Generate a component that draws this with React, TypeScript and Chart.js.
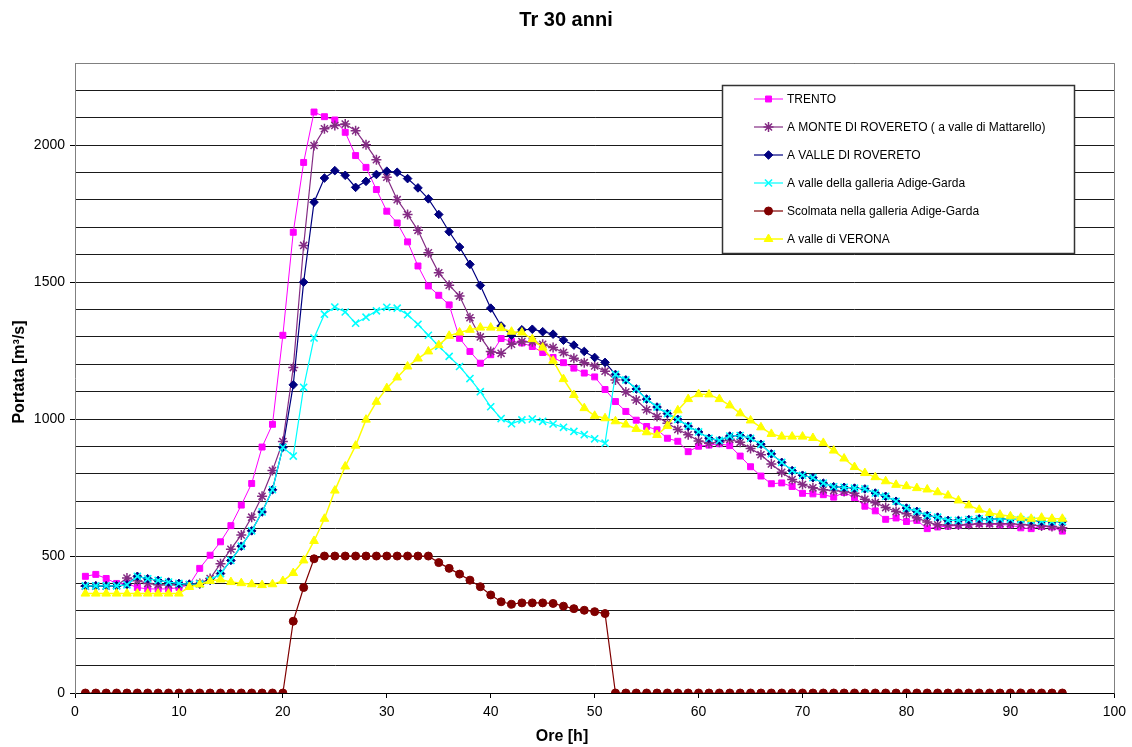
import React, { useEffect, useRef } from 'react';
import { Chart, registerables } from 'chart.js';
import * as helpers from 'chart.js/helpers';

Chart.register(...registerables);

const titleText = 'Tr 30 anni';
const xTitle = 'Ore [h]';
const yTitle = 'Portata [m³/s]';

const hours = Array.from({ length: 95 }, (_, i) => i + 1);

const seriesLabels = [
  'TRENTO',
  'A MONTE DI ROVERETO ( a valle di Mattarello)',
  'A VALLE DI ROVERETO',
  'A valle della galleria Adige-Garda',
  'Scolmata nella galleria Adige-Garda',
  'A valle di VERONA',
];

const trento = [
  426, 433, 418, 400, 400, 385, 380, 380, 380, 385,
  395, 455, 503, 552, 611, 686, 765, 898, 981, 1306,
  1682, 1937, 2121, 2104, 2092, 2047, 1962, 1919, 1838, 1759,
  1716, 1647, 1559, 1486, 1452, 1417, 1295, 1247, 1204, 1235,
  1294, 1284, 1278, 1265, 1243, 1225, 1206, 1186, 1168, 1154,
  1108, 1064, 1028, 996, 973, 961, 930, 919, 881, 901,
  905, 910, 903, 865, 826, 792, 764, 767, 754, 729,
  727, 724, 715, 732, 714, 682, 665, 634, 639, 626,
  630, 600, 606, 609, 612, 615, 618, 618, 614, 614,
  603, 600, 608, 606, 591,
];

const monteRovereto = [
  390, 390, 390, 392, 420, 410, 400, 395, 395, 395,
  395, 400, 418, 472, 525, 577, 642, 718, 812, 918,
  1188, 1634, 1999, 2060, 2072, 2077, 2053, 2002, 1947, 1883,
  1801, 1747, 1689, 1607, 1534, 1489, 1449, 1370, 1300, 1247,
  1240, 1273, 1283, 1282, 1273, 1261, 1243, 1222, 1206, 1194,
  1175, 1143, 1099, 1070, 1034, 1009, 985, 962, 943, 920,
  912, 915, 926, 915, 893, 870, 836, 806, 779, 761,
  749, 742, 739, 736, 729, 707, 695, 677, 663, 654,
  640, 624, 614, 613, 613, 615, 618, 618, 618, 618,
  615, 613, 610, 608, 603,
];

const valleRovereto = [
  391, 391, 391, 391, 395, 426, 417, 411, 405, 400,
  397, 398, 411, 436, 484, 536, 592, 661, 742, 897,
  1125, 1500, 1792, 1880, 1907, 1890, 1846, 1868, 1893, 1905,
  1901, 1878, 1844, 1804, 1747, 1684, 1628, 1565, 1488, 1405,
  1340, 1306, 1326, 1328, 1319, 1310, 1288, 1270, 1247, 1225,
  1207, 1163, 1143, 1110, 1073, 1044, 1020, 999, 974, 953,
  930, 922, 938, 940, 930, 908, 873, 842, 812, 795,
  786, 766, 753, 751, 748, 745, 730, 718, 700, 675,
  663, 648, 642, 630, 630, 633, 636, 635, 636, 635,
  633, 630, 627, 626, 626,
];

const valleGalleria = [
  391, 391, 391, 391, 395, 426, 417, 411, 405, 400,
  397, 398, 411, 436, 484, 536, 592, 661, 742, 897,
  865, 1116, 1296, 1383, 1409, 1391, 1350, 1372, 1395, 1408,
  1405, 1381, 1346, 1306, 1266, 1229, 1192, 1148, 1100, 1045,
  1002, 983, 997, 1000, 992, 982, 970, 955, 943, 928,
  912, 1163, 1143, 1110, 1073, 1044, 1020, 999, 974, 953,
  930, 922, 938, 940, 930, 908, 873, 842, 812, 795,
  786, 766, 753, 751, 748, 745, 730, 718, 700, 675,
  663, 648, 642, 630, 630, 633, 636, 635, 636, 635,
  633, 630, 627, 626, 626,
];

const scolmata = [
  0, 0, 0, 0, 0, 0, 0, 0, 0, 0,
  0, 0, 0, 0, 0, 0, 0, 0, 0, 0,
  262, 385, 490, 500, 500, 500, 500, 500, 500, 500,
  500, 500, 500, 500, 476, 455, 434, 412, 388, 358,
  333, 324, 329, 329, 329, 327, 317, 308, 302, 297,
  290, 0, 0, 0, 0, 0, 0, 0, 0, 0,
  0, 0, 0, 0, 0, 0, 0, 0, 0, 0,
  0, 0, 0, 0, 0, 0, 0, 0, 0, 0,
  0, 0, 0, 0, 0, 0, 0, 0, 0, 0,
  0, 0, 0, 0, 0,
];

const verona = [
  363, 363, 363, 363, 363, 363, 363, 363, 363, 363,
  387, 396, 409, 414, 405, 401, 397, 394, 397, 409,
  438, 484, 555, 636, 739, 827, 903, 998, 1063, 1113,
  1152, 1192, 1221, 1247, 1270, 1304, 1316, 1326, 1334, 1334,
  1332, 1319, 1316, 1292, 1261, 1213, 1146, 1088, 1040, 1012,
  1003, 992, 980, 964, 952, 942, 975, 1032, 1073, 1091,
  1090, 1073, 1050, 1021, 995, 970, 946, 936, 936, 936,
  931, 913, 885, 856, 825, 803, 788, 773, 760, 755,
  748, 743, 733, 721, 703, 685, 669, 657, 651, 645,
  640, 636, 640, 636, 636,
];

const seriesValues = [trento, monteRovereto, valleRovereto, valleGalleria, scolmata, verona];

const seriesColors = ['#FF00FF', '#842C84', '#000080', '#00FFFF', '#800000', '#FFFF00'];
const pointStyles = ['rect', 'star', 'rectRot', 'crossRot', 'circle', 'triangle'];
const pointRadii = [4.2, 5, 4.3, 5, 4, 5];
const lineWidths = [1, 1.2, 1.2, 1.2, 1.2, 1.5];
const pointBorderWidths = [1, 1.5, 1, 1.6, 1, 1];

const FONT = '"Liberation Sans", Arial, sans-serif';

const decorPlugin = {
  id: 'decor',
  beforeDraw(chart: any) {
    const ctx = chart.ctx;
    ctx.save();
    ctx.fillStyle = '#ffffff';
    ctx.fillRect(0, 0, chart.width, chart.height);
    ctx.restore();
  },
  afterDraw(chart: any) {
    const ctx = chart.ctx;
    const area = chart.chartArea;
    ctx.save();
    // plot border (top / right)
    ctx.strokeStyle = '#808080';
    ctx.lineWidth = 1;
    ctx.beginPath();
    ctx.moveTo(Math.round(area.left) + 0.5, Math.round(area.top) + 0.5);
    ctx.lineTo(Math.round(area.right) + 0.5, Math.round(area.top) + 0.5);
    ctx.lineTo(Math.round(area.right) + 0.5, Math.round(area.bottom) + 0.5);
    ctx.stroke();

    // title
    ctx.fillStyle = '#000';
    ctx.textAlign = 'center';
    ctx.textBaseline = 'middle';
    ctx.font = 'bold 20px ' + FONT;
    ctx.fillText(titleText, 566, 20);

    // axis titles
    ctx.font = 'bold 16px ' + FONT;
    ctx.fillText(xTitle, 562, 737);
    ctx.save();
    ctx.translate(20, 372);
    ctx.rotate(-Math.PI / 2);
    ctx.fillText(yTitle, 0, 0);
    ctx.restore();

    // legend box
    const bx = 722, by = 85, bw = 352, bh = 168;
    ctx.fillStyle = '#ffffff';
    ctx.fillRect(bx, by, bw, bh);
    ctx.strokeStyle = '#333';
    ctx.lineWidth = 1.5;
    ctx.strokeRect(bx + 0.5, by + 0.5, bw, bh);

    ctx.font = '12px ' + FONT;
    ctx.textAlign = 'left';
    ctx.textBaseline = 'middle';
    for (let i = 0; i < seriesLabels.length; i++) {
      const y = 99 + 28 * i;
      ctx.strokeStyle = seriesColors[i];
      ctx.fillStyle = seriesColors[i];
      ctx.lineWidth = lineWidths[i];
      ctx.beginPath();
      ctx.moveTo(754, y);
      ctx.lineTo(783, y);
      ctx.stroke();
      ctx.lineWidth = pointBorderWidths[i];
      (helpers as any).drawPoint(ctx, { pointStyle: pointStyles[i], radius: pointRadii[i], rotation: 0, borderWidth: pointBorderWidths[i] }, 768.5, y);
      ctx.fillStyle = '#000';
      ctx.fillText(seriesLabels[i], 787, y + 0.5);
    }
    ctx.restore();
  },
};

export default function App() {
  const ref = useRef<HTMLCanvasElement>(null);

  useEffect(() => {
    const canvas = ref.current;
    if (!canvas) return;
    const datasets = seriesLabels.map((label, i) => ({
      label,
      data: hours.map((h, j) => ({ x: h, y: seriesValues[i][j] })),
      borderColor: seriesColors[i],
      backgroundColor: seriesColors[i],
      pointBackgroundColor: seriesColors[i],
      pointBorderColor: seriesColors[i],
      pointStyle: pointStyles[i],
      pointRadius: pointRadii[i],
      pointBorderWidth: pointBorderWidths[i],
      borderWidth: lineWidths[i],
      tension: 0,
      fill: false,
      order: seriesLabels.length - 1 - i,
    }));

    const chart = new Chart(canvas, {
      type: 'line',
      data: { datasets } as any,
      options: {
        animation: false,
        responsive: false,
        devicePixelRatio: 1,
        layout: { padding: { left: 0, right: 16, top: 63, bottom: 0 } },
        plugins: {
          legend: { display: false },
          title: { display: false },
          tooltip: { enabled: false },
        },
        scales: {
          x: {
            type: 'linear',
            min: 0,
            max: 100,
            afterFit: (s: any) => { s.height = 54; },
            ticks: {
              stepSize: 10,
              autoSkip: false,
              maxRotation: 0,
              color: '#000',
              padding: 6,
              font: { family: FONT, size: 14 },
            },
            grid: {
              drawOnChartArea: false,
              drawTicks: true,
              tickLength: 5,
              tickColor: '#000',
            },
            border: { color: '#000', width: 1 },
          },
          y: {
            type: 'linear',
            min: 0,
            max: 2300,
            afterFit: (s: any) => { s.width = 75; },
            ticks: {
              stepSize: 100,
              autoSkip: false,
              color: '#000',
              padding: 5,
              font: { family: FONT, size: 14 },
              callback: (v: any) => (Number(v) % 500 === 0 ? String(v) : ''),
            },
            grid: {
              color: '#1a1a1a',
              lineWidth: 1,
              drawTicks: true,
              tickLength: 5,
              tickColor: (c: any) => (c.tick && c.tick.value % 500 === 0 ? '#000' : 'rgba(0,0,0,0)'),
            },
            border: { color: '#808080', width: 1 },
          },
        },
      } as any,
      plugins: [decorPlugin],
    });
    return () => chart.destroy();
  }, []);

  return (
    <div style={{ position: 'absolute', left: 0, top: 0, width: 1132, height: 747, background: '#fff' }}>
      <canvas ref={ref} width={1132} height={747} style={{ display: 'block', width: 1132, height: 747 }} />
    </div>
  );
}
